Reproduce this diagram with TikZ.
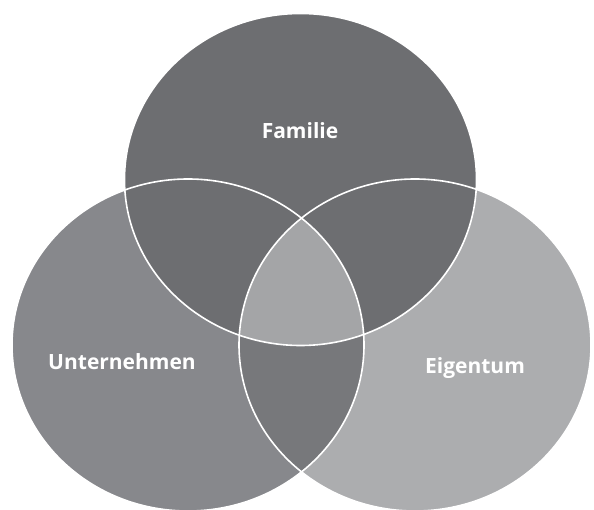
\documentclass[tikz,border=0pt]{standalone}
\usepackage{fontspec}
\setmainfont{Open Sans}
\definecolor{ctop}{HTML}{6D6E71}
\definecolor{cleft}{HTML}{87888C}
\definecolor{cright}{HTML}{ACADAF}
\definecolor{clens}{HTML}{77787B}
\definecolor{ccenter}{HTML}{A4A5A7}
\tikzset{
  lbl/.style={text=white, font=\bfseries\fontsize{21}{24}\selectfont, anchor=base, inner sep=0pt},
  outline/.style={draw=white, line width=1.6pt}
}
\begin{document}
\begin{tikzpicture}[x=1pt,y=-1pt]
\useasboundingbox (0,0) rectangle (594,510);
\clip (0,0) rectangle (594,510);
\def\rx{176}\def\ry{166}
\coordinate (T) at (300.5,179.5);
\coordinate (L) at (188,345);
\coordinate (R) at (415,345);
% base fills
\fill[cleft] (L) ellipse [x radius=\rx, y radius=\ry];
\fill[cright] (R) ellipse [x radius=\rx, y radius=\ry];
\begin{scope}
  \clip (L) ellipse [x radius=\rx, y radius=\ry];
  \fill[clens] (R) ellipse [x radius=\rx, y radius=\ry];
\end{scope}
\fill[ctop] (T) ellipse [x radius=\rx, y radius=\ry];
\begin{scope}
  \clip (L) ellipse [x radius=\rx, y radius=\ry];
  \clip (T) ellipse [x radius=\rx, y radius=\ry];
  \fill[ccenter] (R) ellipse [x radius=\rx, y radius=\ry];
\end{scope}
% outlines
\draw[outline] (T) ellipse [x radius=\rx, y radius=\ry];
\draw[outline] (L) ellipse [x radius=\rx, y radius=\ry];
\draw[outline] (R) ellipse [x radius=\rx, y radius=\ry];
% labels
\node[lbl] (familie) at (300,139) {Familie};
\node[lbl] (untern) at (122,369) {Unternehmen};
\node[lbl] (eigen) at (475,373) {Eigentum};
\end{tikzpicture}
\end{document}
